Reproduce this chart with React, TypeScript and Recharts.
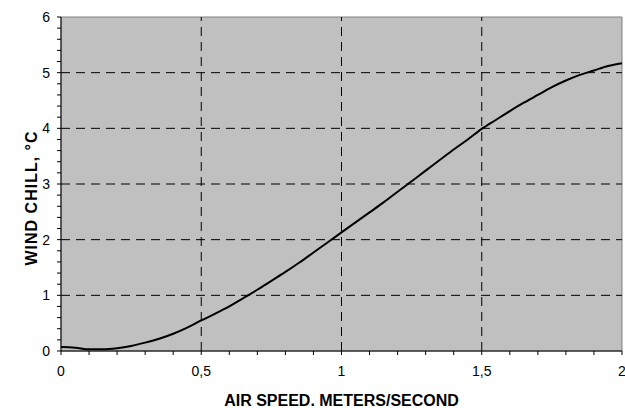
import React from "react";
import {
  LineChart,
  Line,
  XAxis,
  YAxis,
  CartesianGrid,
  ReferenceLine,
  ReferenceArea,
} from "recharts";

const airSpeed = [
  0, 0.05, 0.1, 0.15, 0.2, 0.25, 0.3, 0.35, 0.4, 0.45, 0.5, 0.55, 0.6, 0.65,
  0.7, 0.75, 0.8, 0.85, 0.9, 0.95, 1, 1.05, 1.1, 1.15, 1.2, 1.25, 1.3, 1.35,
  1.4, 1.45, 1.5, 1.55, 1.6, 1.65, 1.7, 1.75, 1.8, 1.85, 1.9, 1.95, 2,
];
const windChill = [
  0.07, 0.06, 0.03, 0.03, 0.05, 0.09, 0.15, 0.22, 0.31, 0.42, 0.55, 0.67, 0.8,
  0.95, 1.1, 1.26, 1.42, 1.59, 1.77, 1.95, 2.13, 2.31, 2.49, 2.67, 2.86, 3.05,
  3.24, 3.43, 3.62, 3.8, 3.99, 4.15, 4.31, 4.46, 4.6, 4.74, 4.86, 4.96, 5.04,
  5.12, 5.17,
];

// minor ticks every 0.1 / 0.2, labels only on the majors
const xTicks = [
  0, 0.1, 0.2, 0.3, 0.4, 0.5, 0.6, 0.7, 0.8, 0.9, 1, 1.1, 1.2, 1.3, 1.4, 1.5,
  1.6, 1.7, 1.8, 1.9, 2,
];
const xLabels = [0, 0.5, 1, 1.5, 2];
const yTicks = [
  0, 0.2, 0.4, 0.6, 0.8, 1, 1.2, 1.4, 1.6, 1.8, 2, 2.2, 2.4, 2.6, 2.8, 3, 3.2,
  3.4, 3.6, 3.8, 4, 4.2, 4.4, 4.6, 4.8, 5, 5.2, 5.4, 5.6, 5.8, 6,
];
const yLabels = [0, 1, 2, 3, 4, 5, 6];
const xGrid = [0.5, 1, 1.5];
const yGrid = [1, 2, 3, 4, 5];

const data = airSpeed.map((x, i) => ({ x, y: windChill[i] }));

const font = "Arial, 'Liberation Sans', sans-serif";
const fmt = (v: number) => String(v).replace(".", ",");

const XTick = (props: any) => {
  const { x, y, payload } = props;
  const v = payload.value;
  if (!xLabels.some((l) => Math.abs(l - v) < 1e-6)) return null;
  return (
    <text x={x} y={y + 19} textAnchor="middle" fontSize={14} fontFamily={font} fill="#000">
      {fmt(v)}
    </text>
  );
};

const YTick = (props: any) => {
  const { x, y, payload } = props;
  const v = payload.value;
  if (!yLabels.some((l) => Math.abs(l - v) < 1e-6)) return null;
  return (
    <text x={x - 5} y={y + 5} textAnchor="end" fontSize={14} fontFamily={font} fill="#000">
      {fmt(v)}
    </text>
  );
};

const YLabel = (props: any) => {
  const { viewBox } = props;
  const cx = viewBox.x + 37;
  const cy = viewBox.y + viewBox.height / 2 + 14;
  return (
    <text
      x={cx}
      y={cy}
      transform={`rotate(-90, ${cx}, ${cy})`}
      textAnchor="middle"
      fontSize={16}
      fontWeight="bold"
      letterSpacing={1}
      fontFamily={font}
      fill="#000"
    >
      WIND CHILL, °C
    </text>
  );
};

export default function App() {
  return (
    <div style={{ width: 625, height: 408 }}>
      <style>{`body { margin: 0; }`}</style>
      <LineChart
        width={625}
        height={408}
        data={data}
        margin={{ top: 17, right: 3, left: 0, bottom: 0 }}
      >
        <CartesianGrid horizontal={false} vertical={false} fill="#c0c0c0" />
        <ReferenceArea
          x1={0}
          x2={2}
          y1={0}
          y2={6}
          fill="none"
          stroke="#808080"
          strokeWidth={1}
          ifOverflow="visible"
        />
        {xGrid.map((v) => (
          <ReferenceLine key={`xg-${v}`} x={v} stroke="#000" strokeDasharray="9 6" />
        ))}
        {yGrid.map((v) => (
          <ReferenceLine key={`yg-${v}`} y={v} stroke="#000" strokeDasharray="9 6" />
        ))}
        <XAxis
          dataKey="x"
          type="number"
          domain={[0, 2]}
          ticks={xTicks}
          interval={0}
          height={57}
          tickSize={4}
          stroke="#000"
          tick={<XTick />}
          label={{
            value: "AIR SPEED. METERS/SECOND",
            position: "insideBottom",
            offset: 2,
            fontSize: 16,
            fontWeight: "bold",
            fontFamily: font,
            fill: "#000",
          }}
        />
        <YAxis
          type="number"
          domain={[0, 6]}
          ticks={yTicks}
          interval={0}
          width={61}
          tickSize={4}
          stroke="#000"
          tick={<YTick />}
          label={<YLabel />}
        />
        <Line
          type="monotone"
          dataKey="y"
          stroke="#000"
          strokeWidth={2}
          dot={false}
          isAnimationActive={false}
        />
      </LineChart>
    </div>
  );
}
